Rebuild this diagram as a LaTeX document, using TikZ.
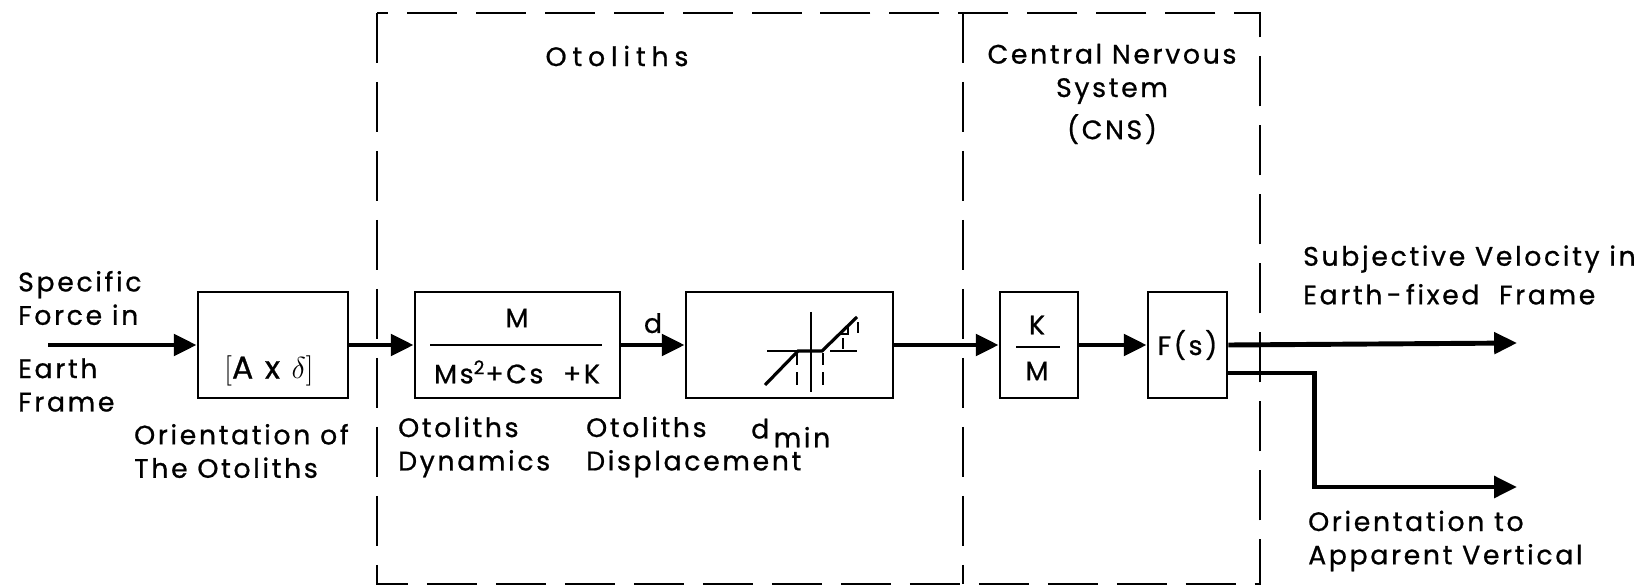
\documentclass[tikz,border=0pt]{standalone}
\usepackage{fontspec}
\setmainfont{Poppins}[LetterSpace=10,FakeBold=0.8]
\usetikzlibrary{arrows.meta}
\begin{document}
\begin{tikzpicture}[x=0.02cm,y=-0.02cm,
    font=\fontsize{15.2}{19}\selectfont,
    blk/.style={draw,line width=1.6pt,minimum height=2.12cm,inner sep=0pt},
    flow/.style={line width=2.8pt,-{Triangle[length=13pt,width=12pt]}},
    frame/.style={line width=1.2pt,dash pattern=on 1cm off 0.38cm},
    curve/.style={line width=1.8pt}]
    \useasboundingbox (0,0) rectangle (1645,587);
    % dashed boundaries
    \draw[frame] (377,13) rectangle (1260,584);
    \draw[frame] (963,13) -- (963,584);
    \node (oto) at (617,56) {\addfontfeature{LetterSpace=22}Otoliths};
    \node[align=center] (cns) at (1112,94) {Central Nervous\\System\\[5pt](CNS)};
    % blocks
    \node[blk,minimum width=3cm] (orient) at (273,345) {};
    \node[font=\fontsize{18}{20}\selectfont] (orientlbl) at (269,371) {$\big[$A\ x\ $\delta\big]$};
    \node[blk,minimum width=4.1cm] (dyn) at (517.5,345) {};
    \node (num) at (517,318) {M};
    \node (den) at (517,372) {Ms\textsuperscript{2}+Cs \ +K};
    \draw[line width=1.4pt] (430,345) -- (602,345); % fraction bar
    \node[blk,minimum width=4.14cm] (nl) at (789.5,345) {};
    \node[blk,minimum width=1.56cm] (km) at (1039,345) {};
    \node (kmnum) at (1037,325) {K};
    \node (kmden) at (1037,371) {M};
    \draw[line width=1.4pt] (1016,347) -- (1060,347);
    \node[blk,minimum width=1.58cm] (fs) at (1187.5,345) {F(s)};
    % dead zone graph
    \draw[line width=1pt] (811,312) -- (811,392);
    \draw[line width=1pt] (767,351) -- (797,351) (830,351) -- (857,351);
    \draw[curve] (765,385) -- (798,351) -- (822,351) -- (857,317);
    \draw[line width=1pt,dash pattern=on 7pt off 4pt] (797,353) -- (797,385) (823,353) -- (823,385);
    \draw[line width=1pt] (838,334) -- (848,334) -- (848,325) (858,322) -- (858,333) (843,338) -- (843,349);
    % signals
    \coordinate (in) at (48,345);
    \coordinate (vel) at (1517,343);
    \coordinate (vert) at (1517,487);
    \draw[flow] (in) -- (orient);
    \draw[flow] (orient) -- (dyn);
    \draw[flow] (dyn) -- node[above=2pt] (d) {d} (nl);
    \draw[flow] (nl) -- (km);
    \draw[flow] (km) -- (fs);
    \draw[flow] (fs.east) -- (vel);
    \draw[flow] ([yshift=-0.56cm]fs.east) -- ++(86,0) |- (vert);
    % labels
    \node[anchor=west,align=left] (spec) at (12,298) {Specific\\Force in};
    \node[anchor=west,align=left] (earth) at (12,385) {Earth\\Frame};
    \node[anchor=west,align=left] (orlab) at (128,451) {Orientation of\\The Otoliths};
    \node[anchor=west,align=left] (dynlab) at (392,447) {Otoliths\\Dynamics};
    \node[anchor=west,align=left] (displab) at (580,447) {Otoliths\\Displacement};
    \node[anchor=west] (dmin) at (745,433) {d\,\raisebox{-5pt}{min}};
    \node[anchor=west,align=left] (vellab) at (1297,275) {Subjective Velocity in\\[3pt]Earth\,-\,fixed\ \ Frame};
    \node[anchor=west,align=left] (vertlab) at (1302,541) {Orientation to\\Apparent Vertical};
\end{tikzpicture}
\end{document}
